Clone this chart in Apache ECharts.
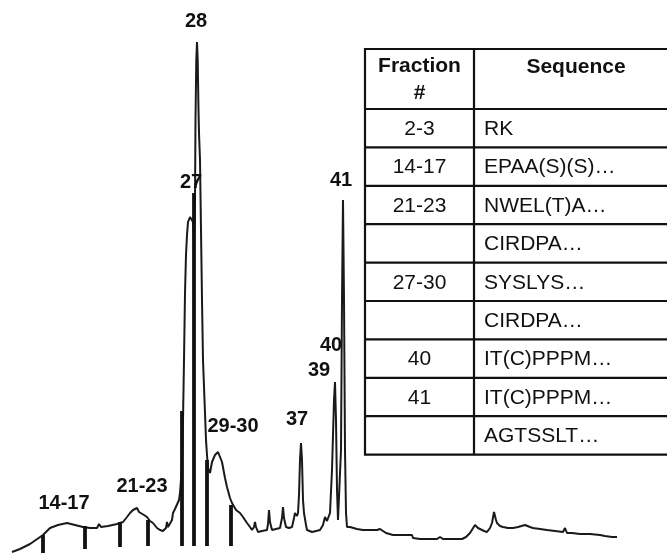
<!DOCTYPE html>
<html><head><meta charset="utf-8">
<script src="https://cdn.jsdelivr.net/npm/echarts@6/dist/echarts.min.js"></script>
<style>html,body{margin:0;padding:0;background:#fff}#c{width:667px;height:553px}</style>
</head><body><div id="c"></div>
<script>
// Chromatogram trace (retention units, signal units)
const traceTime = [0.0,0.8,1.8,3.1,3.8,4.6,5.5,6.3,7.1,7.8,8.5,8.7,8.9,9.6,10.5,10.8,11.1,11.5,11.8,12.1,12.3,12.5,12.7,12.9,13.2,13.5,13.8,14.1,14.5,14.8,15.1,15.3,15.4,15.5,15.6,15.8,16.0,16.1,16.3,16.5,16.7,16.8,16.9,17.0,17.1,17.2,17.3,17.4,17.5,17.6,17.8,18.0,18.1,18.2,18.3,18.35,18.43,18.5,18.57,18.65,18.7,18.8,18.9,19.0,19.1,19.25,19.4,19.5,19.6,19.8,20.0,20.3,20.6,20.8,21.0,21.3,21.5,21.8,22.0,22.4,22.8,23.1,23.5,23.8,24.0,24.2,24.3,24.4,24.6,25.0,25.5,25.6,25.7,25.8,26.0,26.4,26.8,27.0,27.1,27.2,27.4,27.7,28.0,28.2,28.3,28.5,28.6,28.7,28.8,28.9,29.0,29.1,29.2,29.4,29.5,30.0,30.4,30.8,31.1,31.3,31.5,31.6,31.8,32.0,32.2,32.3,32.4,32.5,32.6,32.8,32.9,33.0,33.1,33.2,33.3,33.4,33.5,33.8,34.5,35.1,35.8,36.5,36.8,37.4,38.1,38.8,40.0,40.1,40.8,42.5,42.8,43.1,44.3,45.0,45.4,45.8,46.3,46.6,46.8,47.2,47.5,47.8,48.0,48.2,48.4,48.5,48.8,49.1,49.6,50.1,50.6,51.3,51.8,52.1,52.8,53.5,54.3,55.1,55.3,55.5,56.0,56.8,57.8,58.8,59.0,59.3,60.0,60.5];
const traceSignal = [0.2,0.8,1.8,3.6,5.0,5.6,6.0,5.6,5.2,5.0,5.0,5.8,5.2,5.4,5.8,6.0,6.2,7.2,8.0,8.6,8.2,9.0,8.2,8.6,7.6,7.2,6.4,6.0,5.0,4.6,4.4,4.2,5.0,6.2,5.2,5.4,6.6,8.0,8.8,9.2,10.6,12.0,14.6,18.0,26.6,38.6,52.0,59.6,63.6,66.2,67.2,67.0,66.2,62.6,70.6,86.6,98.6,102.2,98.6,88.6,84.0,78.6,64.6,50.6,38.6,30.6,22.6,19.6,17.0,16.0,18.2,19.6,20.2,20.0,18.2,15.0,13.2,11.0,10.0,8.6,8.0,7.2,6.0,5.2,4.6,5.2,6.2,5.2,4.2,4.4,4.6,5.8,8.6,6.2,4.6,4.8,5.0,7.0,9.2,7.0,5.2,5.0,5.2,7.0,8.0,7.4,8.0,11.6,18.6,22.0,18.6,10.6,8.0,5.6,4.6,4.2,4.4,4.6,5.6,7.2,6.4,6.0,8.0,16.6,30.6,34.2,26.6,12.6,6.6,6.6,20.6,50.6,70.6,50.6,20.6,8.0,5.2,5.2,4.8,4.6,4.6,4.6,4.8,4.0,3.6,3.6,3.6,3.0,2.8,2.8,3.2,2.8,2.8,2.8,3.2,4.0,5.6,5.0,4.6,4.4,4.2,5.0,6.0,8.2,6.6,6.0,5.4,5.2,5.0,5.0,5.2,5.6,5.2,5.0,4.8,4.6,4.4,4.2,5.0,4.0,4.0,3.8,3.8,3.6,4.0,3.4,3.2,3.2];

// Fraction collection markers: time, base level, top level
const markerTime = [3.1, 7.3, 10.8, 13.6, 17.0, 18.2, 19.5, 21.9];
const markerBase = [0.0, 0.8, 1.2, 1.4, 1.4, 1.4, 1.4, 1.4];
const markerTop  = [3.6, 5.4, 6.2, 6.6, 28.4, 72.0, 18.6, 9.6];

// Peak annotations
const peakLabels = ['14-17','21-23','27','28','29-30','37','39','40','41'];
const peakLabelTime = [5.2, 13.0, 17.9, 18.4, 22.1, 28.5, 30.7, 31.9, 32.9];
const peakLabelSignal = [10.0, 13.4, 74.2, 106.4, 25.4, 26.8, 36.6, 41.6, 74.6];

// Table
const tableHeader = ['Fraction\n#', 'Sequence'];
const tableFractions = ['2-3','14-17','21-23','','27-30','','40','41',''];
const tableSequences = ['RK','EPAA(S)(S)…','NWEL(T)A…','CIRDPA…','SYSLYS…','CIRDPA…','IT(C)PPPM…','IT(C)PPPM…','AGTSSLT…'];

const FONT = '"Liberation Sans", Arial, Helvetica, sans-serif';
const INK = '#111';

const trace = traceTime.map((t, i) => [t, traceSignal[i]]);
const markers = markerTime.map((t, i) => [t, markerBase[i], markerTop[i]]);
const labels = peakLabels.map((s, i) => ({ name: s, value: [peakLabelTime[i], peakLabelSignal[i]] }));

// table layout
const tL = 365, tT = 49, tC = 474, tR = 680, hdrB = 109, rowH = 38.4;
const g = [];
g.push({ type: 'rect', shape: { x: tL, y: tT, width: tR - tL, height: hdrB - tT + rowH * tableFractions.length }, style: { fill: '#fff', stroke: INK, lineWidth: 2.2 }, z: 10 });
g.push({ type: 'line', shape: { x1: tC, y1: tT, x2: tC, y2: hdrB + rowH * tableFractions.length }, style: { stroke: INK, lineWidth: 2.2 }, z: 11 });
for (let i = 0; i <= tableFractions.length - 1; i++) {
  const y = hdrB + rowH * i;
  g.push({ type: 'line', shape: { x1: tL, y1: y, x2: tR, y2: y }, style: { stroke: INK, lineWidth: 2.2 }, z: 11 });
}
g.push({ type: 'text', x: (tL + tC) / 2, y: (tT + hdrB) / 2 + 1, z: 12,
  style: { text: tableHeader[0], font: 'bold 21px ' + FONT, fill: INK, align: 'center', verticalAlign: 'middle', lineHeight: 27 } });
g.push({ type: 'text', x: 576, y: 67, z: 12,
  style: { text: tableHeader[1], font: 'bold 21px ' + FONT, fill: INK, align: 'center', verticalAlign: 'middle' } });
tableFractions.forEach((f, i) => {
  const cy = hdrB + rowH * (i + 0.5) + 1;
  if (f) g.push({ type: 'text', x: (tL + tC) / 2, y: cy, z: 12, style: { text: f, font: '21px ' + FONT, fill: INK, align: 'center', verticalAlign: 'middle' } });
  g.push({ type: 'text', x: 484, y: cy, z: 12, style: { text: tableSequences[i], font: '21px ' + FONT, fill: INK, align: 'left', verticalAlign: 'middle' } });
});

const chart = echarts.init(document.getElementById('c'), null, { renderer: 'canvas' });
chart.setOption({
  animation: false,
  backgroundColor: '#fff',
  grid: { left: 12, right: 0, top: 0, bottom: 0 },
  xAxis: { type: 'value', min: 0, max: 65.5, show: false },
  yAxis: { type: 'value', min: 0, max: 110.6, show: false },
  graphic: g,
  series: [
    { type: 'line', data: trace, showSymbol: false, symbol: 'none', smooth: false,
      lineStyle: { color: '#1a1a1a', width: 2 }, z: 2 },
    { type: 'custom', data: markers, z: 3,
      renderItem: (params, api) => {
        const p1 = api.coord([api.value(0), api.value(1)]);
        const p2 = api.coord([api.value(0), api.value(2)]);
        return { type: 'line', shape: { x1: p1[0], y1: p1[1], x2: p2[0], y2: p2[1] }, style: { stroke: '#111', lineWidth: 3.8 } };
      } },
    { type: 'scatter', data: labels, symbolSize: 0, z: 4, itemStyle: { opacity: 1 },
      label: { show: true, position: 'inside', formatter: '{b}', color: '#111', opacity: 1, fontFamily: FONT, fontWeight: 'bold', fontSize: 20 } }
  ]
});
</script></body></html>
